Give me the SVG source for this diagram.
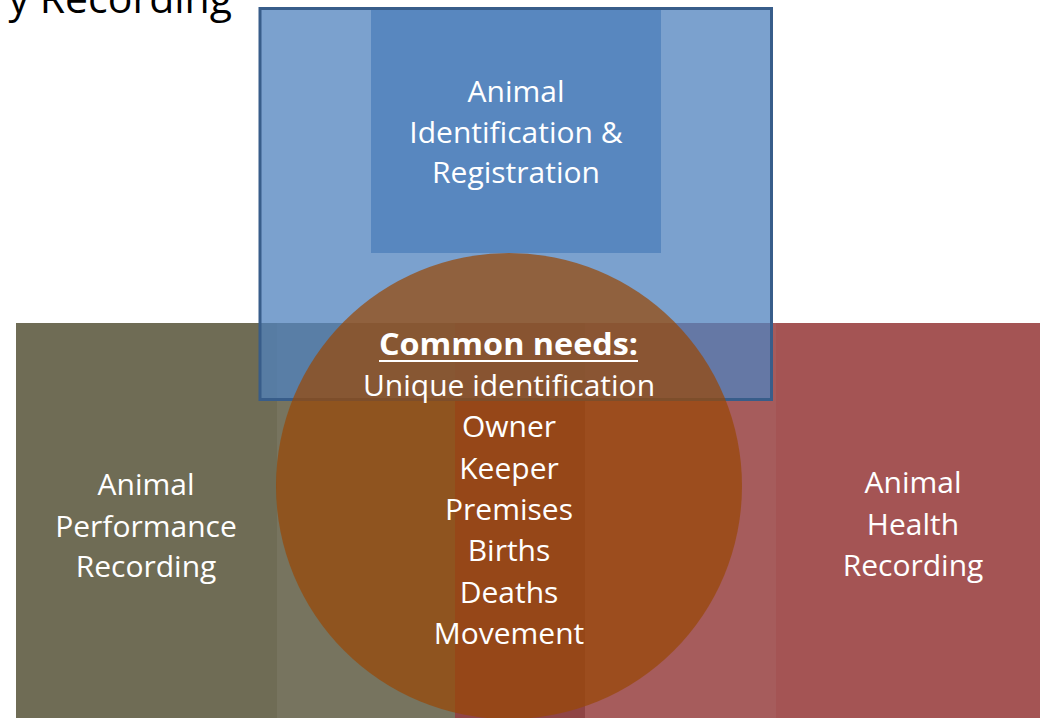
<svg xmlns="http://www.w3.org/2000/svg" width="1040" height="718" viewBox="0 0 1040 718">
<style>
.t{font-family:"Open Sans","Liberation Sans",sans-serif;font-size:30px;fill:#FFFFFF;text-anchor:middle}
.b{font-weight:bold}
</style>
<rect width="1040" height="718" fill="#FFFFFF"/>
<g id="title">
<text x="232" y="13" font-family="Open Sans, Liberation Sans, sans-serif" font-size="41" fill="#000000" text-anchor="end">y Recording</text>
</g>
<g id="node-performance">
<rect x="16" y="323" width="261" height="395" fill="#6F6C55"/>
<rect x="277" y="323" width="178" height="395" fill="#77745F"/>
<text class="t" x="146" y="495">Animal</text>
<text class="t" x="146" y="537">Performance</text>
<text class="t" x="146" y="577">Recording</text>
</g>
<g id="node-overlap-strip">
<rect x="455" y="323" width="130" height="395" fill="#904545"/>
</g>
<g id="node-health">
<rect x="585" y="323" width="191" height="395" fill="#A65C5C"/>
<rect x="776" y="323" width="264" height="395" fill="#A45454"/>
<text class="t" x="913" y="493">Animal</text>
<text class="t" x="913" y="535">Health</text>
<text class="t" x="913" y="576">Recording</text>
</g>
<g id="node-identification">
<rect x="260" y="8.5" width="511.5" height="391" fill="#4F81BD" fill-opacity="0.75" stroke="#385D8A" stroke-width="3"/>
<rect x="371" y="10" width="290" height="243" fill="#5887BF"/>
<text class="t" x="516" y="102">Animal</text>
<text class="t" x="516" y="143">Identification &amp;</text>
<text class="t" x="516" y="183">Registration</text>
</g>
<g id="node-common">
<ellipse cx="509" cy="486" rx="233" ry="233" fill="#984807" fill-opacity="0.72"/>
<text class="t b" x="508.5" y="355" textLength="259" lengthAdjust="spacingAndGlyphs">Common needs:</text>
<rect x="379" y="360" width="259" height="2" fill="#FFFFFF"/>
<text class="t" x="509" y="396">Unique identification</text>
<text class="t" x="509" y="437">Owner</text>
<text class="t" x="509" y="479">Keeper</text>
<text class="t" x="509" y="520">Premises</text>
<text class="t" x="509" y="561">Births</text>
<text class="t" x="509" y="603">Deaths</text>
<text class="t" x="509" y="644">Movement</text>
</g>
<g id="connectors"/>
</svg>
